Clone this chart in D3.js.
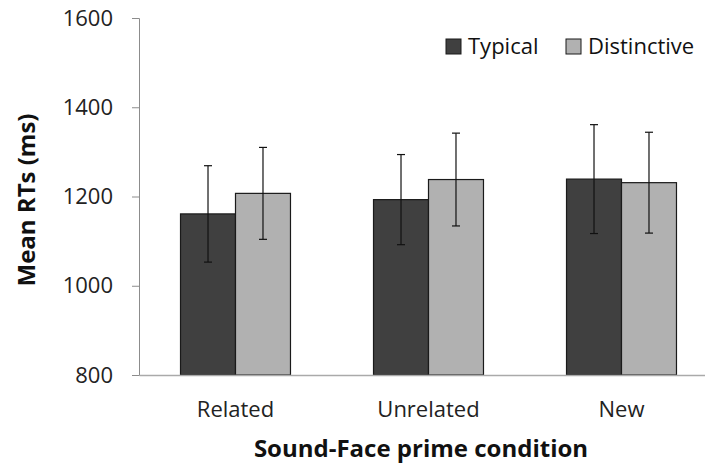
<!DOCTYPE html>
<html><head><meta charset="utf-8">
<script src="https://cdn.jsdelivr.net/npm/d3@7"></script>
<style>body{margin:0;background:#fff}svg{display:block}text{font-family:"Open Sans",Calibri,sans-serif}</style>
</head><body><svg id="c" width="705" height="464"></svg>
<script>
const categories = ["Related", "Unrelated", "New"];
const seriesNames = ["Typical", "Distinctive"];
const typicalMean = [1161, 1193, 1239];
const typicalErr = [108, 101, 122];
const distinctiveMean = [1207, 1238, 1231];
const distinctiveErr = [103, 104, 113];
const yTicks = [800, 1000, 1200, 1400, 1600];
const colors = ["#404040", "#b1b1b1"];

const svg = d3.select("#c");
const x = d3.scaleBand().domain(categories).range([139, 718]);
const xs = d3.scaleBand().domain(seriesNames).range([0, x.bandwidth()]).paddingInner(0).paddingOuter(0.755);
const y = d3.scaleLinear().domain([800, 1600]).range([375, 18]);

// y axis
const ya = svg.append("g").attr("transform", "translate(139,0)")
  .call(d3.axisLeft(y).tickValues(yTicks).tickSize(7).tickPadding(19).tickFormat(d3.format("d")));
ya.select(".domain").attr("stroke", "#8c8c8c");
ya.selectAll(".tick line").attr("stroke", "#8c8c8c");
ya.selectAll("text").attr("font-size", 22).attr("fill", "#222").style("font-family", '"Open Sans",sans-serif');

const data = [
  categories.map((c, i) => ({c, s: seriesNames[0], v: typicalMean[i], e: typicalErr[i]})),
  categories.map((c, i) => ({c, s: seriesNames[1], v: distinctiveMean[i], e: distinctiveErr[i]}))
].flat();

svg.selectAll("rect.bar").data(data).enter().append("rect")
  .attr("x", d => x(d.c) + xs(d.s))
  .attr("width", xs.bandwidth())
  .attr("y", d => y(d.v))
  .attr("height", d => y(800) - y(d.v))
  .attr("fill", d => colors[seriesNames.indexOf(d.s)])
  .attr("stroke", "#1a1a1a").attr("stroke-width", 1.2);

// x axis
const xa = svg.append("g").attr("transform", "translate(0,375)")
  .call(d3.axisBottom(x).tickSize(0).tickPadding(26));
xa.select(".domain").attr("stroke", "#aaaaaa").attr("stroke-width", 1.5);
xa.selectAll("text").attr("font-size", 22).attr("fill", "#222").style("font-family", '"Open Sans",sans-serif');

// error bars
const eg = svg.selectAll("g.err").data(data).enter().append("g")
  .attr("stroke", "#111").attr("stroke-width", 1.2);
const cx = d => x(d.c) + xs(d.s) + xs.bandwidth() / 2;
eg.append("line").attr("x1", cx).attr("x2", cx).attr("y1", d => y(d.v + d.e)).attr("y2", d => y(d.v - d.e));
eg.append("line").attr("x1", d => cx(d) - 4).attr("x2", d => cx(d) + 4).attr("y1", d => y(d.v + d.e)).attr("y2", d => y(d.v + d.e));
eg.append("line").attr("x1", d => cx(d) - 4).attr("x2", d => cx(d) + 4).attr("y1", d => y(d.v - d.e)).attr("y2", d => y(d.v - d.e));

// legend
const legX = [446, 566];
seriesNames.forEach((s, i) => {
  svg.append("rect").attr("x", legX[i]).attr("y", 39).attr("width", 15).attr("height", 15)
    .attr("fill", colors[i]).attr("stroke", "#1a1a1a").attr("stroke-width", 1);
  svg.append("text").attr("x", legX[i] + 22).attr("y", 54).attr("font-size", 22).attr("fill", "#111").text(s);
});

// titles
svg.append("text").attr("transform", "translate(35,200) rotate(-90)").attr("text-anchor", "middle")
  .attr("font-size", 24).attr("font-weight", "bold").attr("fill", "#111").text("Mean RTs (ms)");
svg.append("text").attr("x", 421).attr("y", 457).attr("text-anchor", "middle")
  .attr("font-size", 24).attr("font-weight", "bold").attr("fill", "#111").text("Sound-Face prime condition");
</script></body></html>
